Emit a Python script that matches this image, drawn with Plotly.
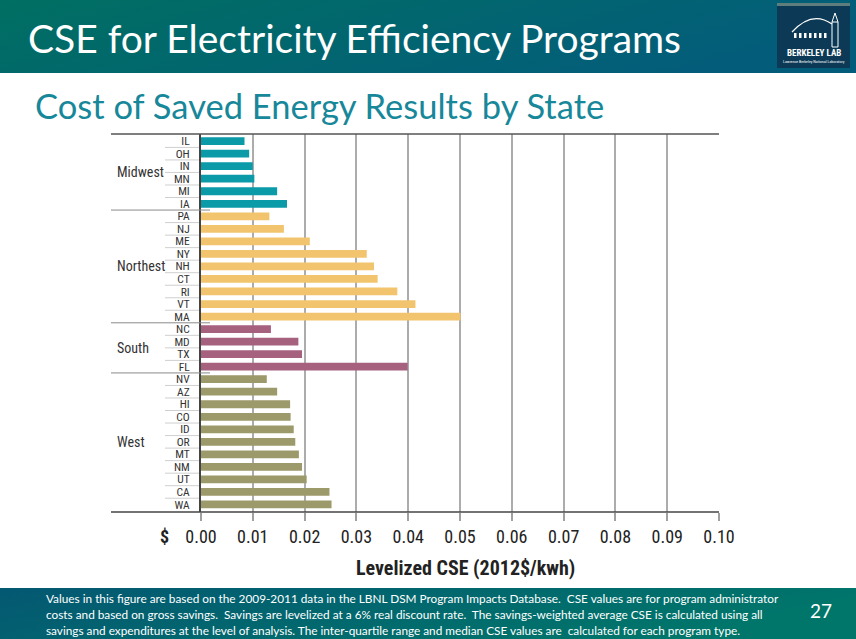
import base64
import plotly.graph_objects as go

# ---------------- data ----------------
midwest_states = ["IL", "OH", "IN", "MN", "MI", "IA"]
midwest_cse = [0.0084, 0.0093, 0.0100, 0.0103, 0.0147, 0.0166]

northeast_states = ["PA", "NJ", "ME", "NY", "NH", "CT", "RI", "VT", "MA"]
northeast_cse = [0.0132, 0.0160, 0.0210, 0.0320, 0.0334, 0.0341, 0.0379, 0.0414, 0.0501]

south_states = ["NC", "MD", "TX", "FL"]
south_cse = [0.0135, 0.0188, 0.0195, 0.0399]

west_states = ["NV", "AZ", "HI", "CO", "ID", "OR", "MT", "NM", "UT", "CA", "WA"]
west_cse = [0.0127, 0.0147, 0.0172, 0.0173, 0.0179, 0.0182, 0.0189, 0.0195, 0.0204, 0.0248, 0.0252]

group_names = ["Midwest", "Northest", "South", "West"]
x_ticks = [0.00, 0.01, 0.02, 0.03, 0.04, 0.05, 0.06, 0.07, 0.08, 0.09, 0.10]
x_ticktext = ["0.00", "0.01", "0.02", "0.03", "0.04", "0.05", "0.06", "0.07", "0.08", "0.09", "0.10"]

title_text = "CSE for Electricity Efficiency Programs"
subtitle_text = "Cost of Saved Energy Results by State"
x_title = "Levelized CSE (2012$/kwh)"
footer_lines = [
    "Values in this figure are based on the 2009-2011 data in the LBNL DSM Program Impacts Database.  CSE values are for program administrator",
    "costs and based on gross savings.  Savings are levelized at a 6% real discount rate.  The savings-weighted average CSE is calculated using all",
    "savings and expenditures at the level of analysis. The inter-quartile range and median CSE values are  calculated for each program type.",
]
page_number = "27"

# ---------------- layout geometry ----------------
W, H = 856, 639
PL, PR, PT, PB = 201, 719, 134, 512  # plot area in pixels

def px2x(px):
    return (px - PL) / (PR - PL)

def py2y(py):
    return (PB - py) / (PB - PT)

groups = [
    (midwest_states, midwest_cse, "#0a9aa8"),
    (northeast_states, northeast_cse, "#f2c46e"),
    (south_states, south_cse, "#a6617f"),
    (west_states, west_cse, "#9c9a6a"),
]
all_states = [s for g in groups for s in g[0]]
n = len(all_states)

cond = "Liberation Sans Narrow, Arial Narrow, Roboto Condensed, Roboto, Liberation Sans, sans-serif"
sans = "Lato, Open Sans, sans-serif"

fig = go.Figure()
for states, vals, color in groups:
    fig.add_trace(go.Bar(
        x=vals, y=states, orientation="h", width=0.62,
        marker=dict(color=color, line=dict(width=0)),
        showlegend=False, hoverinfo="x+y",
    ))

shapes = []
annotations = []

# separators in label area
idx = 0
for gi, (states, vals, color) in enumerate(groups):
    for k in range(len(states)):
        i = idx + k
        if i == n - 1:
            continue
        if k == len(states) - 1:
            shapes.append(dict(type="line", xref="paper", yref="y",
                               x0=px2x(111), x1=px2x(210), y0=i + 0.5, y1=i + 0.5,
                               line=dict(color="#8a8a8a", width=1)))
        else:
            shapes.append(dict(type="line", xref="paper", yref="y",
                               x0=px2x(165), x1=px2x(199), y0=i + 0.5, y1=i + 0.5,
                               line=dict(color="#cfcfcf", width=1)))
    center = idx + (len(states) - 1) / 2
    annotations.append(dict(text=group_names[gi], xref="paper", yref="y",
                            x=px2x(115), y=center, xanchor="left", yanchor="middle",
                            showarrow=False, font=dict(family=cond, size=14, color="#333333")))
    idx += len(states)

# top and bottom rules
shapes.append(dict(type="line", xref="paper", yref="paper", x0=px2x(111), x1=1, y0=1, y1=1,
                   line=dict(color="#555555", width=1.5)))
shapes.append(dict(type="line", xref="paper", yref="paper", x0=px2x(111), x1=1, y0=0, y1=0,
                   line=dict(color="#444444", width=1.5)))

# header/footer gradients
def grad_svg(w, h, c1, c2):
    svg = (f'<svg xmlns="http://www.w3.org/2000/svg" width="{w}" height="{h}">'
           f'<defs><linearGradient id="g" x1="0" x2="1" y1="0" y2="0.3">'
           f'<stop offset="0" stop-color="{c1}"/><stop offset="1" stop-color="{c2}"/>'
           f'</linearGradient></defs><rect width="{w}" height="{h}" fill="url(#g)"/></svg>')
    return "data:image/svg+xml;base64," + base64.b64encode(svg.encode()).decode()

images = [
    dict(source=grad_svg(856, 73, "#006f62", "#035d7a"), xref="paper", yref="paper",
         x=px2x(0), y=py2y(0), sizex=856 / (PR - PL), sizey=73 / (PB - PT),
         xanchor="left", yanchor="top", sizing="stretch", layer="below"),
    dict(source=grad_svg(856, 51, "#045872", "#00766a"), xref="paper", yref="paper",
         x=px2x(0), y=py2y(588), sizex=856 / (PR - PL), sizey=51 / (PB - PT),
         xanchor="left", yanchor="top", sizing="stretch", layer="below"),
]

# logo
shapes.append(dict(type="rect", xref="paper", yref="paper", x0=px2x(777), x1=px2x(850),
                   y0=py2y(68), y1=py2y(3), fillcolor="#0c3a56", line=dict(width=0)))
shapes.append(dict(type="rect", xref="paper", yref="paper", x0=px2x(777), x1=px2x(850),
                   y0=py2y(6), y1=py2y(3), fillcolor="#5f7d7d", line=dict(width=0)))
shapes.append(dict(type="path", xref="paper", yref="paper",
                   path=f"M {px2x(792)},{py2y(32)} Q {px2x(812)},{py2y(10)} {px2x(832)},{py2y(24)}",
                   line=dict(color="white", width=1.2)))
shapes.append(dict(type="rect", xref="paper", yref="paper", x0=px2x(832), x1=px2x(838),
                   y0=py2y(47), y1=py2y(22), fillcolor="rgba(0,0,0,0)", line=dict(color="white", width=1)))
shapes.append(dict(type="path", xref="paper", yref="paper",
                   path=f"M {px2x(832)},{py2y(22)} L {px2x(835)},{py2y(13)} L {px2x(838)},{py2y(22)}",
                   line=dict(color="white", width=1)))
for k in range(7):
    x0 = 794 + k * 5
    shapes.append(dict(type="rect", xref="paper", yref="paper", x0=px2x(x0), x1=px2x(x0 + 2.5),
                       y0=py2y(38), y1=py2y(33), fillcolor="white", line=dict(width=0)))
annotations.append(dict(text="<b>BERKELEY LAB</b>", xref="paper", yref="paper", x=px2x(813.5), y=py2y(53),
                        xanchor="center", yanchor="middle", showarrow=False,
                        font=dict(family=cond, size=9, color="white")))
annotations.append(dict(text="Lawrence Berkeley National Laboratory", xref="paper", yref="paper",
                        x=px2x(813.5), y=py2y(61), xanchor="center", yanchor="middle", showarrow=False,
                        font=dict(family=cond, size=4, color="white")))

# titles
annotations.append(dict(text=title_text, xref="paper", yref="paper", x=px2x(26), y=py2y(38),
                        xanchor="left", yanchor="middle", showarrow=False,
                        font=dict(family=sans, size=39, color="white")))
annotations.append(dict(text=subtitle_text, xref="paper", yref="paper", x=px2x(33), y=py2y(105),
                        xanchor="left", yanchor="middle", showarrow=False,
                        font=dict(family=sans, size=34.5, color="#17879a")))

# $ sign and x title
annotations.append(dict(text="<b>$</b>", xref="paper", yref="paper", x=px2x(164), y=py2y(536),
                        xanchor="center", yanchor="middle", showarrow=False,
                        font=dict(family=cond, size=18, color="#222222")))
annotations.append(dict(text="<b>" + x_title + "</b>", xref="paper", yref="paper", x=px2x(465), y=py2y(568),
                        xanchor="center", yanchor="middle", showarrow=False,
                        font=dict(family=cond, size=20, color="#222222")))

# footer
for k, line in enumerate(footer_lines):
    annotations.append(dict(text=line, xref="paper", yref="paper", x=px2x(44), y=py2y(598 + k * 16),
                            xanchor="left", yanchor="middle", showarrow=False,
                            font=dict(family=sans, size=11.8, color="white")))
annotations.append(dict(text=page_number, xref="paper", yref="paper", x=px2x(821), y=py2y(610),
                        xanchor="center", yanchor="middle", showarrow=False,
                        font=dict(family=sans, size=19, color="white")))

fig.update_layout(
    width=W, height=H,
    margin=dict(l=PL, r=W - PR, t=PT, b=H - PB, pad=0),
    paper_bgcolor="white", plot_bgcolor="white",
    barmode="overlay",
    shapes=shapes, annotations=annotations, images=images,
    xaxis=dict(range=[0, 0.1], tickmode="array", tickvals=x_ticks, ticktext=x_ticktext,
               showgrid=True, gridcolor="#acacac", gridwidth=2, zeroline=False,
               showline=False, ticks="outside", ticklen=8, tickwidth=1.5, tickcolor="#a0a0a0",
               tickfont=dict(family=cond, size=18, color="#222222"), fixedrange=True),
    yaxis=dict(type="category", categoryarray=all_states, range=[n - 0.4, -0.57],
               tickmode="array", tickvals=all_states, ticktext=all_states,
               showgrid=False, zeroline=False, showline=True, linecolor="#444444", linewidth=2,
               ticks="", ticklabelstandoff=7,
               tickfont=dict(family=cond, size=11.5, color="#333333"), fixedrange=True),
)

fig.write_html("out.html", config={"displayModeBar": False},
               post_script="document.body.style.margin='0px';")
